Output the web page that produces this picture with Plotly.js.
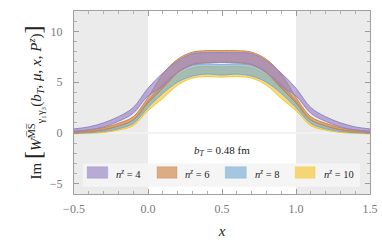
<!DOCTYPE html>
<html>
<head>
<meta charset="utf-8">
<script src="https://cdn.plot.ly/plotly-3.0.1.min.js"></script>
<style>
html,body{margin:0;padding:0;background:#fff;}
#chart{width:382px;height:243px;}
</style>
</head>
<body>
<div id="chart"></div>
<script>
// ---- data ----
var xs = [-0.5,-0.4,-0.3,-0.2,-0.1,0.0,0.1,0.2,0.3,0.4,0.5,0.6,0.7,0.8,0.9,1.0,1.1,1.2,1.3,1.4,1.5];

var n4Lower  = [0.14,0.3,0.6,1.15,1.95,3.65,4.6,6.0,6.75,6.95,6.95,6.95,6.75,6.0,4.6,3.65,1.95,1.15,0.6,0.3,0.14];
var n4Upper  = [0.4,0.6,1.0,1.6,2.5,4.4,5.9,7.1,7.8,7.9,7.9,7.9,7.8,7.1,5.9,4.4,2.5,1.6,1.0,0.6,0.4];
var n6Lower  = [0.05,0.12,0.3,0.68,1.25,2.95,4.4,5.9,6.7,6.9,6.95,6.9,6.7,5.9,4.4,2.95,1.25,0.68,0.3,0.12,0.05];
var n6Upper  = [0.18,0.3,0.52,0.95,1.6,3.5,5.8,7.25,7.95,8.1,8.1,8.1,7.95,7.25,5.8,3.5,1.6,0.95,0.52,0.3,0.18];
var n8Lower  = [-0.02,0.03,0.15,0.42,0.95,2.5,3.9,5.0,5.6,5.8,5.7,5.8,5.6,5.0,3.9,2.5,0.95,0.42,0.15,0.03,-0.02];
var n8Upper  = [0.1,0.18,0.35,0.72,1.3,3.15,4.8,5.95,6.65,6.8,6.75,6.8,6.65,5.95,4.8,3.15,1.3,0.72,0.35,0.18,0.1];
var n10Lower = [-0.08,-0.04,0.05,0.28,0.72,2.2,3.4,4.7,5.4,5.55,5.5,5.55,5.4,4.7,3.4,2.2,0.72,0.28,0.05,-0.04,-0.08];
var n10Upper = [0.03,0.08,0.2,0.52,1.05,2.95,4.5,5.7,6.4,6.55,6.5,6.55,6.4,5.7,4.5,2.95,1.05,0.52,0.2,0.08,0.03];

var seriesLabels = ['<i>n</i><sup><i>z</i></sup> = 4','<i>n</i><sup><i>z</i></sup> = 6','<i>n</i><sup><i>z</i></sup> = 8','<i>n</i><sup><i>z</i></sup> = 10'];
var lowers = [n4Lower, n6Lower, n8Lower, n10Lower];
var uppers = [n4Upper, n6Upper, n8Upper, n10Upper];
var lineColors = ['rgb(150,132,196)','rgb(205,133,70)','rgb(120,172,210)','rgb(246,198,50)'];
var fillColors = ['rgba(150,132,196,0.65)','rgba(205,133,70,0.65)','rgba(120,172,210,0.65)','rgba(246,198,50,0.65)'];

var xTickVals = [-0.5,0.0,0.5,1.0,1.5];
var yTickVals = [-5,0,5,10];
var annotText = '<i>b</i><sub><i>T</i></sub> = 0.48 fm';

// ---- traces (drawn from n=10 up to n=4 so n=4 sits on top) ----
var traces = [];
for (var k = 3; k >= 0; k--) {
  traces.push({
    x: xs, y: lowers[k], type: 'scatter', mode: 'lines',
    line: {color: lineColors[k], width: 1, shape: 'spline', smoothing: 1},
    showlegend: false, hoverinfo: 'skip'
  });
  traces.push({
    x: xs, y: uppers[k], type: 'scatter', mode: 'lines', fill: 'tonexty',
    fillcolor: fillColors[k], name: seriesLabels[k],
    line: {color: lineColors[k], width: 1, shape: 'spline', smoothing: 1},
    showlegend: false, hoverinfo: 'skip'
  });
}

var serif = '"Liberation Serif", "DejaVu Serif", serif';

// ---- shapes: shaded regions, zero line, legend box ----
var shapes = [
  {type:'rect', xref:'x', yref:'paper', x0:-0.5, x1:0, y0:0, y1:1, fillcolor:'#ebebeb', line:{width:0}, layer:'below'},
  {type:'rect', xref:'x', yref:'paper', x0:1, x1:1.5, y0:0, y1:1, fillcolor:'#ebebeb', line:{width:0}, layer:'below'},
  {type:'line', xref:'x', yref:'y', x0:-0.5, x1:0, y0:0, y1:0, line:{color:'#f7f7f7', width:1.2}, layer:'below'},
  {type:'line', xref:'x', yref:'y', x0:0, x1:1, y0:0, y1:0, line:{color:'#e8e8e8', width:1.2}, layer:'below'},
  {type:'line', xref:'x', yref:'y', x0:1, x1:1.5, y0:0, y1:0, line:{color:'#f7f7f7', width:1.2}, layer:'below'},
  {type:'rect', xref:'paper', yref:'paper', x0:0.030, x1:0.966, y0:0.040, y1:0.167, fillcolor:'rgba(244,244,244,0.95)', line:{width:0}, layer:'above'}
];
var swX = [[0.0445,0.114],[0.2806,0.348],[0.511,0.582],[0.747,0.8145]];
var txX = [0.1366,0.3693,0.6044,0.837];
var annotations = [
  {xref:'x', yref:'y', x:0.5, y:-1.75, text: annotText, showarrow:false,
   font:{family: serif, size:11, color:'#222'}}
];
for (var i = 0; i < 4; i++) {
  shapes.push({type:'rect', xref:'paper', yref:'paper', x0:swX[i][0], x1:swX[i][1], y0:0.086, y1:0.149,
    fillcolor: fillColors[i], line:{color: fillColors[i], width:0.5}, layer:'above'});
  annotations.push({xref:'paper', yref:'paper', x:txX[i], y:0.112, xanchor:'left', yanchor:'middle',
    text: seriesLabels[i], showarrow:false,
    font:{family: serif, size:10.5, color:'#222'}});
}

var layout = {
  width: 382, height: 243,
  margin: {l: 73.5, r: 12, t: 10.7, b: 49},
  paper_bgcolor: '#ffffff', plot_bgcolor: '#ffffff',
  showlegend: false,
  font: {family: serif},
  xaxis: {
    range: [-0.5, 1.5], tickvals: xTickVals, tickformat: '.1f',
    ticks: 'inside', ticklen: 5, tickcolor: '#9a9a9a', tickwidth: 1,
    showline: true, linecolor: '#a0a0a0', linewidth: 1, mirror: 'allticks',
    showgrid: false, zeroline: false, ticklabelstandoff: 4,
    minor: {dtick: 0.1, tick0: 0, ticks: 'inside', ticklen: 3, tickcolor: '#b0b0b0', showgrid: false},
    tickfont: {family: serif, size: 12, color: '#7a7a7a'},
    title: {text: '<i>x</i>', font: {family: serif, size: 15, color: '#222'}, standoff: 10}
  },
  yaxis: {
    range: [-6, 12], tickvals: yTickVals,
    ticks: 'inside', ticklen: 5, tickcolor: '#9a9a9a', tickwidth: 1,
    showline: true, linecolor: '#a0a0a0', linewidth: 1, mirror: 'allticks',
    showgrid: false, zeroline: false, ticklabelstandoff: 8,
    minor: {dtick: 1, tick0: 0, ticks: 'inside', ticklen: 3, tickcolor: '#b0b0b0', showgrid: false},
    tickfont: {family: serif, size: 12, color: '#7a7a7a'},
    title: {
      text: 'Im <span style="font-size:24px">[</span><i>W</i><sup>M\u0305S\u0305</sup><sub>γ₁γ₃</sub>(<i>b</i><sub><i>T</i></sub>, <i>μ</i>, <i>x</i>, <i>P</i><sup><i>z</i></sup>)<span style="font-size:24px">]</span>\u00a0\u00a0\u00a0\u00a0\u00a0',
      font: {family: serif, size: 15, color: '#222'}, standoff: 4
    }
  },
  shapes: shapes,
  annotations: annotations
};

Plotly.newPlot('chart', traces, layout, {staticPlot: true, displayModeBar: false});
</script>
</body>
</html>
